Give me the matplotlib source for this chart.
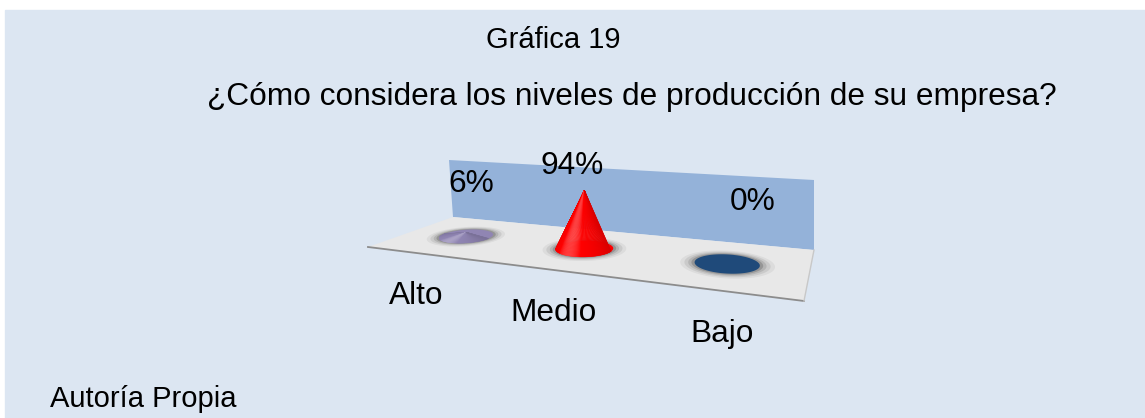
import matplotlib
matplotlib.use("Agg")
import matplotlib.pyplot as plt
from matplotlib.patches import Polygon, Rectangle
import numpy as np

# data
categories = ["Alto", "Medio", "Bajo"]
percentages = [6, 94, 0]
cone_colors = ["#9085b3", "#ff0000", "#1f4a7a"]

title_top = "Gráfica 19"
question = "¿Cómo considera los niveles de producción de su empresa?"
source = "Autoría Propia"

plt.rcParams["font.family"] = ["Liberation Sans", "DejaVu Sans"]
FS = 21
FS_BIG = 22.8

# floor of the 3d chart (pixels): front-left, front-right, back-right, back-left
floor_px = np.array([[368, 247], [804, 301], [814, 250], [453, 217]], float)
wall_px = np.array([[449, 160], [814, 180], [814, 250], [453, 217]], float)
floor_uv = np.array([[0, 0], [1, 0], [1, 1], [0, 1]], float)


def homography(src, dst):
    A, b = [], []
    for (u, v), (x, y) in zip(src, dst):
        A.append([u, v, 1, 0, 0, 0, -u * x, -v * x]); b.append(x)
        A.append([0, 0, 0, u, v, 1, -u * y, -v * y]); b.append(y)
    h = np.linalg.solve(np.array(A), np.array(b))
    return np.append(h, 1).reshape(3, 3)


H = homography(floor_uv, floor_px)


def proj(u, v):
    u = np.atleast_1d(u); v = np.atleast_1d(v)
    p = H @ np.vstack([u, v, np.ones_like(u)])
    return np.column_stack([p[0] / p[2], p[1] / p[2]])


px_per_pct = 0.62
ru, rv, v0 = 0.068, 0.2, 0.5
u_pos = (np.arange(len(categories)) + 0.5) / len(categories)

fig = plt.figure(figsize=(11.45, 4.18), dpi=100, facecolor="white")
ax = fig.add_axes([0, 0, 1, 1])
ax.set_xlim(0, 1145)
ax.set_ylim(418, 0)
ax.axis("off")

ax.add_patch(Rectangle((5, 10), 1140, 408, color="#dce6f2", zorder=0))

ax.add_patch(Polygon(wall_px, closed=True, facecolor="#94b2d9", edgecolor="none", zorder=1))
ax.add_patch(Polygon(floor_px, closed=True, facecolor="#e8e8e8", edgecolor="none", zorder=2))
ax.plot(floor_px[:2, 0], floor_px[:2, 1], color="#8c8c8c", lw=1.3, zorder=3)
ax.plot(floor_px[1:3, 0], floor_px[1:3, 1], color="#c8c8c8", lw=1.0, zorder=3)

theta = np.linspace(0, 2 * np.pi, 120)
pct_offsets = [(5, -44), (-12, -74), (26, -53)]
cat_offsets = [(-50, 68), (-31, 73), (-5, 79)]

for i, (cat, val, col) in enumerate(zip(categories, percentages, cone_colors)):
    u0 = u_pos[i]
    # soft shadow around the base
    for s, a in zip([1.45, 1.32, 1.2, 1.1], [0.08, 0.12, 0.18, 0.3]):
        sh = proj(u0 + s * ru * np.cos(theta), v0 + s * rv * np.sin(theta))
        ax.add_patch(Polygon(sh, closed=True, facecolor="#505050", alpha=a,
                             edgecolor="none", zorder=4))
    base = proj(u0 + ru * np.cos(theta), v0 + rv * np.sin(theta))
    ax.add_patch(Polygon(base, closed=True, facecolor=col, edgecolor="none", zorder=5))

    centre = proj(u0, v0)[0]
    apex = centre - np.array([0, val * px_per_pct])
    if val > 0:
        rgb = np.array(matplotlib.colors.to_rgb(col))
        th = np.linspace(np.pi, 2 * np.pi, 80)
        pts = proj(u0 + ru * np.cos(th), v0 + rv * np.sin(th))
        for j in range(len(th) - 1):
            s = np.cos((th[j] + th[j + 1]) / 2 - 1.45 * np.pi)
            if s > 0.9:
                c = rgb + (1 - rgb) * (s - 0.9) * 2.5
            else:
                c = rgb * (0.72 + 0.28 * (s + 1) / 1.9)
            c = np.clip(c, 0, 1)
            ax.add_patch(Polygon([apex, pts[j], pts[j + 1]], closed=True,
                                 facecolor=c, edgecolor=c, lw=0.3, zorder=6))

    dx, dy = pct_offsets[i]
    ax.text(centre[0] + dx, centre[1] + dy, f"{val}%", fontsize=FS_BIG,
            ha="center", va="baseline", zorder=7)
    dx, dy = cat_offsets[i]
    ax.text(centre[0] + dx, centre[1] + dy, cat, fontsize=FS_BIG,
            ha="center", va="baseline", zorder=7)

ax.text(553, 48, title_top, fontsize=FS, ha="center", va="baseline")
ax.text(632, 105, question, fontsize=FS_BIG, ha="center", va="baseline")
ax.text(50, 407, source, fontsize=FS, ha="left", va="baseline")

fig.savefig("out.png", dpi=100, facecolor=fig.get_facecolor())
